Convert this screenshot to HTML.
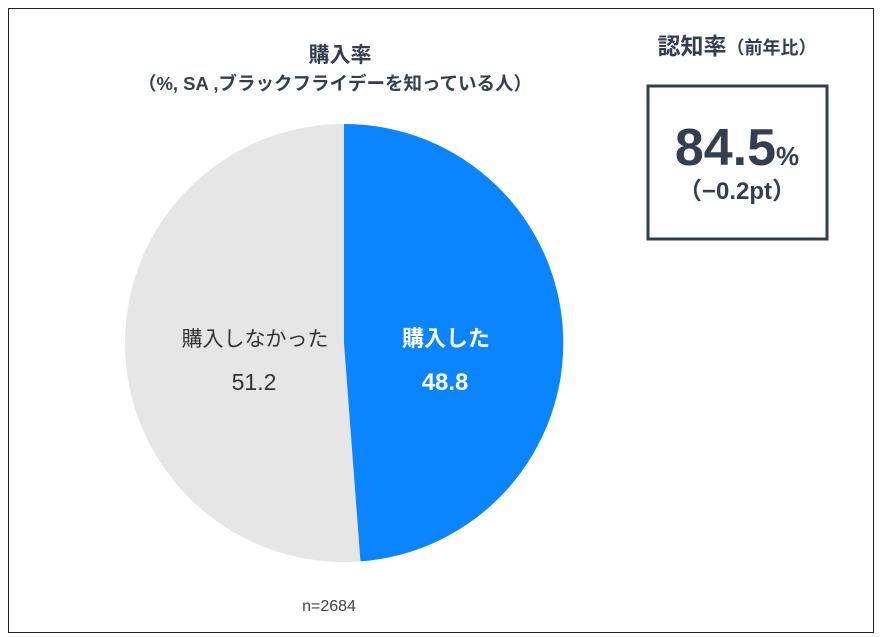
<!DOCTYPE html>
<html><head><meta charset="utf-8"><style>
body{margin:0;background:#fff;}
.f{font-family:"Liberation Sans","Noto Sans CJK JP",sans-serif;}
</style></head><body>
<svg width="882" height="637" xmlns="http://www.w3.org/2000/svg" class="f" style="display:block">
<rect x="0" y="0" width="882" height="637" fill="#fff"/>
<rect x="8.5" y="8.5" width="865" height="624" fill="none" stroke="#222" stroke-width="1"/>
<text x="340" y="62" text-anchor="middle" font-size="21" font-weight="bold" fill="#333f50">購入率</text>
<text x="335" y="90" text-anchor="middle" font-size="18.5" font-weight="bold" fill="#333f50">（%, SA ,ブラックフライデーを知っている人）</text>
<circle cx="344" cy="343" r="219" fill="#e6e6e6"/>
<path d="M344,343 L344,124 A219,219 0 0 1 360.5,561.4 Z" fill="#0a84ff"/>
<text x="446" y="346" text-anchor="middle" font-size="22" font-weight="bold" fill="#fff">購入した</text>
<text x="445" y="390" text-anchor="middle" font-size="24" font-weight="bold" fill="#fff">48.8</text>
<text x="255" y="346" text-anchor="middle" font-size="21" fill="#333">購入しなかった</text>
<text x="254" y="390" text-anchor="middle" font-size="23" fill="#333">51.2</text>
<text x="329" y="611" text-anchor="middle" font-size="16" fill="#444">n=2684</text>
<text x="737" y="54" text-anchor="middle" font-size="23" font-weight="bold" fill="#333f50">認知率<tspan font-size="18">（前年比）</tspan></text>
<rect x="648" y="86" width="179" height="153" fill="#fff" stroke="#333f50" stroke-width="3"/>
<text x="737" y="165" text-anchor="middle" font-size="52" font-weight="bold" fill="#333f50">84.5<tspan font-size="26">%</tspan></text>
<text x="737" y="199" text-anchor="middle" font-size="24" font-weight="bold" fill="#333f50">（−0.2pt）</text>
</svg>
</body></html>
